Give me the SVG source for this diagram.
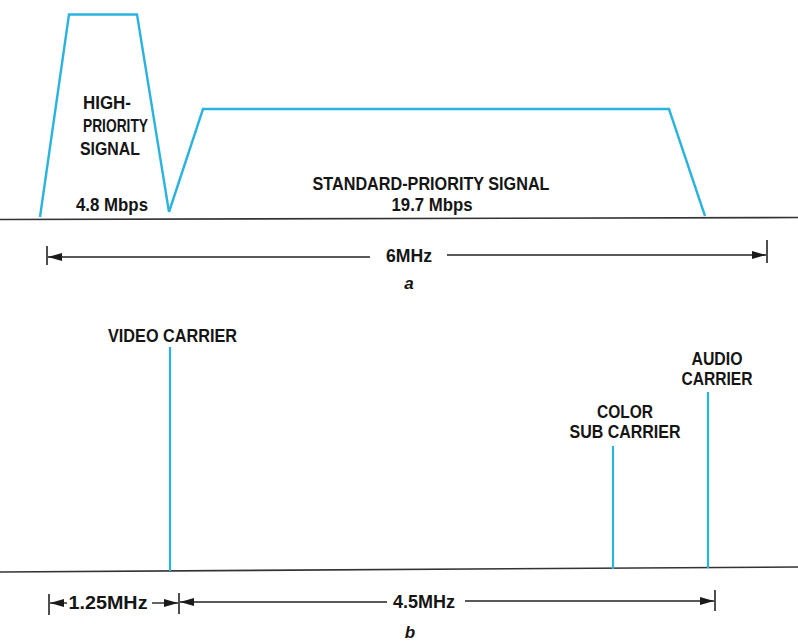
<svg xmlns="http://www.w3.org/2000/svg" width="798" height="641" viewBox="0 0 798 641">
<style>
.sig{fill:none;stroke:#2bb3e0;stroke-width:2.4;stroke-linejoin:miter}
.car{stroke:#2bb3e0;stroke-width:2.2}
.base{stroke:#333;stroke-width:1.6;fill:none}
.dim{stroke:#222;stroke-width:1.4;fill:none}
.tick{stroke:#222;stroke-width:1.6}
text{font-family:"Liberation Sans",Arial,sans-serif;font-weight:bold;fill:#151515;text-anchor:middle}
.t{font-size:19px}
.s{font-size:18px}
.lab{font-size:17px;font-style:italic}
</style>
<defs>
<marker id="ah" viewBox="0 0 14 8" refX="14" refY="4" markerWidth="14" markerHeight="8" markerUnits="userSpaceOnUse" orient="auto-start-reverse">
<path d="M0,0 L14,4 L0,8 Z" fill="#1a1a1a"/>
</marker>
</defs>
<rect width="798" height="641" fill="#fff"/>

<!-- part a -->
<g id="baseline-a"><path class="base" d="M0,219.5 L798,217.5"/></g>
<g id="high-priority">
<path class="sig" d="M40,217 L69,14.5 L137,14.5 L169,212"/>
<text class="t" x="107" y="109" textLength="48" lengthAdjust="spacingAndGlyphs">HIGH-</text>
<text class="t" x="115.5" y="132" textLength="65" lengthAdjust="spacingAndGlyphs">PRIORITY</text>
<text class="t" x="110" y="155" textLength="60" lengthAdjust="spacingAndGlyphs">SIGNAL</text>
<text class="s" x="112" y="211" textLength="72" lengthAdjust="spacingAndGlyphs">4.8 Mbps</text>
</g>
<g id="standard-priority">
<path class="sig" d="M169,212 L203,109 L669,109 L705,216"/>
<text class="t" x="431" y="190" textLength="237" lengthAdjust="spacingAndGlyphs">STANDARD-PRIORITY SIGNAL</text>
<text class="t" x="432" y="211" textLength="81" lengthAdjust="spacingAndGlyphs">19.7 Mbps</text>
</g>

<!-- part b -->
<g id="baseline-b"><path class="base" d="M0,572 L798,567"/></g>
<g id="video-carrier">
<line class="car" x1="170" y1="347" x2="170" y2="571"/>
<text class="s" x="172.5" y="342" textLength="129" lengthAdjust="spacingAndGlyphs">VIDEO CARRIER</text>
</g>
<g id="color-sub-carrier">
<line class="car" x1="613" y1="446" x2="613" y2="569"/>
<text class="t" x="625" y="418" textLength="56" lengthAdjust="spacingAndGlyphs">COLOR</text>
<text class="t" x="625" y="438" textLength="111" lengthAdjust="spacingAndGlyphs">SUB CARRIER</text>
</g>
<g id="audio-carrier">
<line class="car" x1="708" y1="392" x2="708" y2="568"/>
<text class="t" x="717" y="365" textLength="51" lengthAdjust="spacingAndGlyphs">AUDIO</text>
<text class="t" x="717" y="385" textLength="71" lengthAdjust="spacingAndGlyphs">CARRIER</text>
</g>

<g id="connectors">
<!-- 6MHz -->
<line class="tick" x1="47" y1="246" x2="47" y2="265"/>
<line class="tick" x1="767" y1="240" x2="767" y2="263"/>
<line class="dim" x1="370" y1="257" x2="48" y2="257" marker-end="url(#ah)"/>
<line class="dim" x1="447" y1="255" x2="766" y2="255" marker-end="url(#ah)"/>
<!-- 1.25MHz -->
<line class="tick" x1="49" y1="594" x2="49" y2="615"/>
<line class="tick" x1="179" y1="593" x2="179" y2="614"/>
<line class="dim" x1="67" y1="603" x2="50" y2="603" marker-end="url(#ah)"/>
<line class="dim" x1="152" y1="603" x2="178" y2="603" marker-end="url(#ah)"/>
<!-- 4.5MHz -->
<line class="tick" x1="715" y1="590" x2="715" y2="611"/>
<line class="dim" x1="387" y1="602" x2="180" y2="602" marker-end="url(#ah)"/>
<line class="dim" x1="465" y1="601" x2="714" y2="601" marker-end="url(#ah)"/>
</g>

<g id="dimension-labels">
<text class="s" x="409" y="262" textLength="46" lengthAdjust="spacingAndGlyphs">6MHz</text>
<text class="t" x="108" y="609" textLength="79" lengthAdjust="spacingAndGlyphs">1.25MHz</text>
<text class="t" x="424" y="608" textLength="62" lengthAdjust="spacingAndGlyphs">4.5MHz</text>
<text class="lab" x="409" y="289">a</text>
<text class="lab" x="410" y="638">b</text>
</g>
</svg>
